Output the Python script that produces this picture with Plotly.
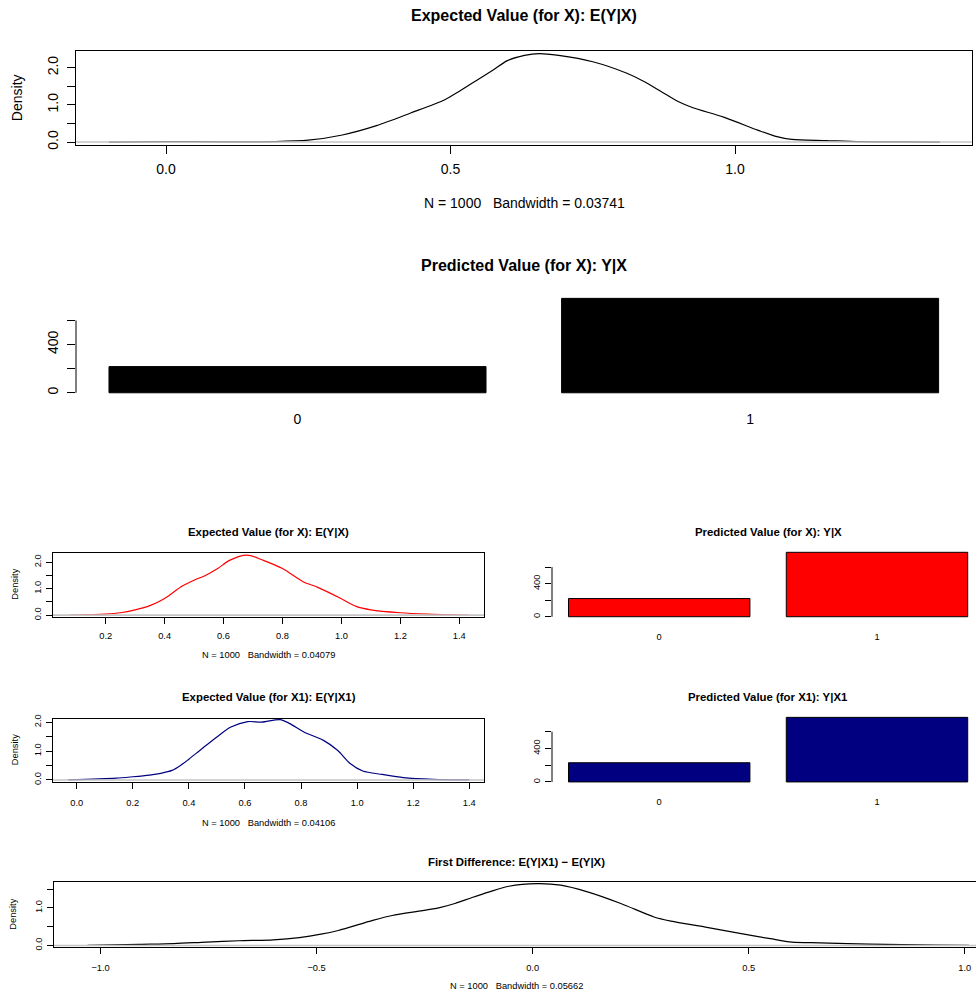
import plotly.graph_objects as go

W, H = 976, 999
FONT = "Liberation Sans, Arial, Helvetica, sans-serif"

# ---- dados ----
# Expected Value (for X): E(Y|X)  (painel grande)
EV_TOP_X = [-0.10, 0.00, 0.10, 0.19, 0.25, 0.31, 0.37, 0.43, 0.49, 0.515, 0.545, 0.575,
            0.60, 0.63, 0.656, 0.69, 0.75, 0.81, 0.84, 0.87, 0.90, 0.925, 0.98, 1.04,
            1.07, 1.10, 1.16, 1.22, 1.30, 1.36]
EV_TOP_Y = [0.0, 0.012, 0.006, 0.012, 0.05, 0.19, 0.44, 0.78, 1.14, 1.36, 1.65, 1.94,
            2.19, 2.33, 2.38, 2.33, 2.16, 1.85, 1.63, 1.36, 1.09, 0.93, 0.67, 0.32,
            0.16, 0.07, 0.04, 0.01, 0.003, 0.0]

# Predicted Value (for X): Y|X  (painel grande)
PV_CATS = ["0", "1"]
PV_TOP_N = [217, 783]

# Expected Value (for X): E(Y|X)  (vermelho)
EV_X_X = [0.08, 0.20, 0.25, 0.30, 0.35, 0.40, 0.46, 0.50, 0.54, 0.58, 0.62, 0.68, 0.735,
          0.80, 0.87, 0.92, 1.00, 1.05, 1.10, 1.20, 1.29, 1.43]
EV_X_Y = [0.0, 0.04, 0.09, 0.20, 0.36, 0.63, 1.10, 1.32, 1.51, 1.76, 2.07, 2.27, 2.07,
          1.76, 1.26, 1.05, 0.62, 0.33, 0.20, 0.09, 0.04, 0.0]
PV_X_N = [220, 780]

# Expected Value (for X1): E(Y|X1)  (azul)
EV_X1_X = [-0.03, 0.14, 0.20, 0.26, 0.30, 0.34, 0.37, 0.40, 0.44, 0.50, 0.55, 0.61, 0.66,
           0.725, 0.76, 0.81, 0.88, 0.93, 0.975, 1.02, 1.09, 1.165, 1.27, 1.40]
EV_X1_Y = [0.0, 0.06, 0.11, 0.17, 0.23, 0.33, 0.50, 0.72, 1.03, 1.49, 1.83, 2.02, 2.00,
           2.09, 1.95, 1.66, 1.37, 1.03, 0.57, 0.31, 0.19, 0.08, 0.02, 0.0]
PV_X1_N = [229, 771]

# First Difference: E(Y|X1) - E(Y|X)
FD_X = [-1.03, -0.91, -0.83, -0.755, -0.68, -0.60, -0.54, -0.49, -0.45, -0.37, -0.325,
        -0.255, -0.215, -0.18, -0.14, -0.10, -0.055, 0.01, 0.065, 0.127, 0.204, 0.281,
        0.32, 0.40, 0.47, 0.55, 0.60, 0.665, 0.78, 0.935, 1.01]
FD_Y = [0.0, 0.03, 0.05, 0.09, 0.125, 0.15, 0.21, 0.30, 0.40, 0.67, 0.80,
        0.93, 1.01, 1.12, 1.28, 1.43, 1.58, 1.65, 1.61, 1.43, 1.12, 0.76,
        0.65, 0.49, 0.34, 0.18, 0.09, 0.07, 0.036, 0.01, 0.0]

# ticks
DENS_YTICKS = [0.0, 0.5, 1.0, 1.5, 2.0]
DENS_YTEXT = ["0.0", "", "1.0", "", "2.0"]
FD_YTICKS = [0.0, 0.5, 1.0, 1.5]
FD_YTEXT = ["0.0", "", "1.0", ""]
BAR_YTICKS = [0, 200, 400, 600]
BAR_YTEXT = ["0", "", "400", ""]
TOP_XTICKS = [0.0, 0.5, 1.0]
EV_X_XTICKS = [0.2, 0.4, 0.6, 0.8, 1.0, 1.2, 1.4]
EV_X1_XTICKS = [0.0, 0.2, 0.4, 0.6, 0.8, 1.0, 1.2, 1.4]
FD_XTICKS = [-1.0, -0.5, 0.0, 0.5, 1.0]


def fmt(v):
    return f"{v:.1f}".replace("-", "\u2212")


def val_range(anchor, p0, p1):
    # converte posicoes em pixel para valores usando dois pontos de referencia
    pa, va, pb, vb = anchor
    k = (vb - va) / (pb - pa)
    return [va + (p0 - pa) * k, va + (p1 - pa) * k]


def text(fig, s, cx, cy, size, bold=False, angle=0):
    fig.add_annotation(
        x=cx / W, y=1 - cy / H, xref="paper", yref="paper", text=s, showarrow=False,
        xanchor="center", yanchor="middle", textangle=angle,
        font=dict(family=FONT, size=size, color="black", weight="bold" if bold else "normal"),
    )


fig = go.Figure()
layout = {}


def add_density(n, xs, ys, color, box, xa, ya, xticks, yticks, ytext, fs, tlen,
                xstand, ystand, mirror_y=True):
    left, right, top, bottom = box
    sfx = "" if n == 1 else str(n)
    fig.add_trace(go.Scatter(x=xs, y=ys, mode="lines", line=dict(color=color, width=1.2, shape="spline", smoothing=0.8),
                             xaxis="x" + sfx, yaxis="y" + sfx, hoverinfo="skip"))
    layout["xaxis" + sfx] = dict(
        domain=[left / W, min(right / W, 1.0)], range=val_range(xa, left, right), anchor="y" + sfx,
        tickvals=xticks, ticktext=[fmt(v) for v in xticks], ticks="outside", ticklen=tlen,
        tickcolor="black", showline=True, linecolor="black", linewidth=1, mirror=True,
        showgrid=False, zeroline=False, ticklabelstandoff=xstand,
        tickfont=dict(family=FONT, size=fs, color="black"),
    )
    layout["yaxis" + sfx] = dict(
        domain=[1 - bottom / H, 1 - top / H], range=val_range(ya, bottom, top), anchor="x" + sfx,
        tickvals=yticks, ticktext=ytext, ticks="outside", ticklen=tlen, tickangle=-90,
        tickcolor="black", showline=True, linecolor="black", linewidth=1, mirror=mirror_y,
        showgrid=False, zeroline=False, ticklabelstandoff=ystand,
        tickfont=dict(family=FONT, size=fs, color="black"),
    )
    # linha do zero em cinza (como abline(h = 0) do R)
    fig.add_shape(type="line", xref=f"x{sfx} domain", yref="y" + sfx, x0=0, x1=1, y0=0, y1=0,
                  line=dict(color="#C4C4C4", width=1.6), layer="above")


def add_bars(n, counts, color, box, xa, ya, fs, tlen, xstand, ystand):
    left, right, top, bottom = box
    sfx = str(n)
    fig.add_trace(go.Bar(x=PV_CATS, y=counts, marker=dict(color=color, line=dict(color="black", width=1)),
                         xaxis="x" + sfx, yaxis="y" + sfx, hoverinfo="skip"))
    layout["xaxis" + sfx] = dict(
        domain=[left / W, min(right / W, 1.0)], range=val_range(xa, left, right), anchor="y" + sfx,
        type="category", showline=False, ticks="", showgrid=False, zeroline=False,
        ticklabelstandoff=xstand, tickfont=dict(family=FONT, size=fs, color="black"),
    )
    layout["yaxis" + sfx] = dict(
        domain=[1 - bottom / H, 1 - top / H], range=val_range(ya, bottom, top), anchor="x" + sfx,
        tickvals=BAR_YTICKS, ticktext=BAR_YTEXT, ticks="outside", ticklen=tlen, tickangle=-90,
        tickcolor="black", showline=False, showgrid=False, zeroline=False,
        ticklabelstandoff=ystand, tickfont=dict(family=FONT, size=fs, color="black"),
    )
    fig.add_shape(type="line", xref=f"x{sfx} domain", yref="y" + sfx, x0=0, x1=0,
                  y0=BAR_YTICKS[0], y1=BAR_YTICKS[-1], line=dict(color="black", width=1))


BIG, SMALL = 14, 9.3
TBIG, TSMALL = 16, 11.4

# painel 1
add_density(1, EV_TOP_X, EV_TOP_Y, "black", (76, 971.7, 47.3, 142), (166, 0.0, 735, 1.0),
            (139.3, 0.0, 64.3, 2.0), TOP_XTICKS, DENS_YTICKS, DENS_YTEXT, BIG, 8, 3, 3)
text(fig, "Expected Value (for X): E(Y|X)", 524, 12, TBIG, bold=True)
text(fig, "Density", 17, 95, BIG, angle=-90)
text(fig, "N = 1000   Bandwidth = 0.03741", 524, 201, BIG)

# painel 2
add_bars(2, PV_TOP_N, "black", (76, 972, 293, 396), (297.5, 0, 750.1, 1), (392.3, 0, 319.3, 600),
         BIG, 8, 13, 3)
text(fig, "Predicted Value (for X): Y|X", 524, 264, TBIG, bold=True)

# painel 3
add_density(3, EV_X_X, EV_X_Y, "#FF0000", (53, 484, 553.7, 619), (105.7, 0.2, 459.3, 1.4),
            (616.7, 0.0, 563.3, 2.0), EV_X_XTICKS, DENS_YTICKS, DENS_YTEXT, SMALL, 6, 3, 1)
text(fig, "Expected Value (for X): E(Y|X)", 268.5, 532.7, TSMALL, bold=True)
text(fig, "Density", 15, 586, SMALL, angle=-90)
text(fig, "N = 1000   Bandwidth = 0.04079", 268.5, 657, SMALL)

# painel 4
add_bars(4, PV_X_N, "#FF0000", (552, 976, 550.4, 620.9), (659.2, 0, 877, 1), (618.3, 0, 568.3, 600),
         SMALL, 6, 10, 1)
text(fig, "Predicted Value (for X): Y|X", 768, 532.7, TSMALL, bold=True)

# painel 5
add_density(5, EV_X1_X, EV_X1_Y, "#000080", (53, 484, 721.3, 785), (76.7, 0.0, 469.3, 1.4),
            (783, 0.0, 724.7, 2.0), EV_X1_XTICKS, DENS_YTICKS, DENS_YTEXT, SMALL, 6, 6, 1)
text(fig, "Expected Value (for X1): E(Y|X1)", 268.5, 699, TSMALL, bold=True)
text(fig, "Density", 15, 753, SMALL, angle=-90)
text(fig, "N = 1000   Bandwidth = 0.04106", 268.5, 826.7, SMALL)

# painel 6
add_bars(6, PV_X1_N, "#000080", (552, 976, 716.1, 787.6), (659.2, 0, 877, 1), (785, 0, 734.3, 600),
         SMALL, 6, 10, 1)
text(fig, "Predicted Value (for X1): Y|X1", 768, 699, TSMALL, bold=True)

# painel 7
add_density(7, FD_X, FD_Y, "black", (54, 979, 886, 952), (100.7, -1.0, 967.7, 1.0),
            (950, 0.0, 893.3, 1.5), FD_XTICKS, FD_YTICKS, FD_YTEXT, SMALL, 6, 5, 1, mirror_y=False)
text(fig, "First Difference: E(Y|X1) \u2212 E(Y|X)", 516.5, 866, TSMALL, bold=True)
text(fig, "Density", 13, 919, SMALL, angle=-90)
text(fig, "N = 1000   Bandwidth = 0.05662", 516.5, 991, SMALL)

fig.update_layout(
    **layout,
    width=W, height=H,
    margin=dict(l=0, r=0, t=0, b=0),
    paper_bgcolor="white", plot_bgcolor="white",
    showlegend=False,
    bargap=0.167,
    font=dict(family=FONT, color="black"),
)

# sem margem do body para a figura ocupar a janela inteira
fig.write_html("out.html", config={"displayModeBar": False},
               post_script="document.body.style.margin='0';document.body.style.overflow='hidden';")
